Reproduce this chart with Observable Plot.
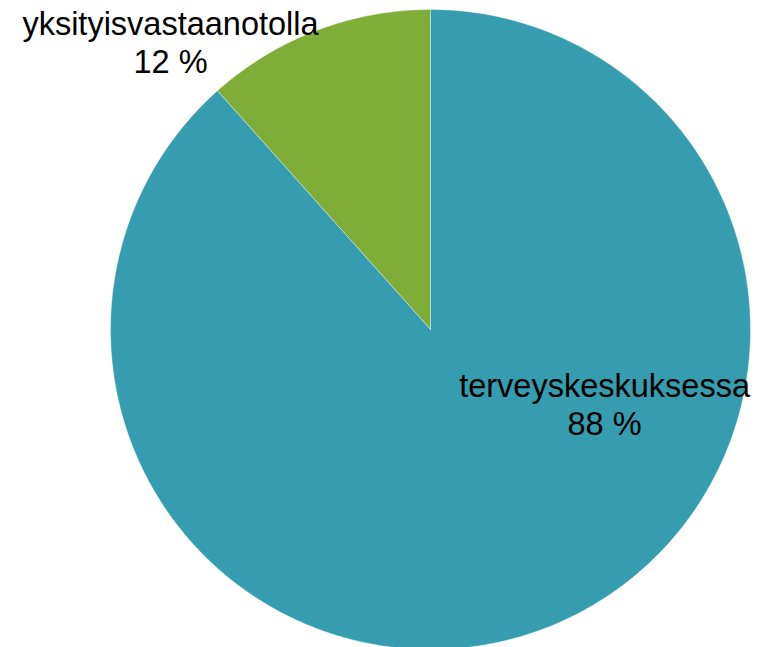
<!DOCTYPE html>
<html><head><meta charset="utf-8">
<script src="https://cdn.jsdelivr.net/npm/d3@7"></script>
<script src="https://cdn.jsdelivr.net/npm/@observablehq/plot@0.6"></script>
<style>body{margin:0;background:#fff;} #chart{position:absolute;left:0;top:0;}</style>
</head><body><div id="chart"></div>
<script>
const categories = ["yksityisvastaanotolla", "terveyskeskuksessa"];
const values = [11.6, 88.4];
const labels = ["12 %", "88 %"];
const colors = ["#80AC38", "#359DAF"];

// angles: start at 12 o'clock, first slice goes counter-clockwise
const total = d3.sum(values);
const polys = [];
let acc = 0;
categories.forEach((c, i) => {
  const a0 = -acc / total * 2 * Math.PI;
  const a1 = -(acc + values[i]) / total * 2 * Math.PI;
  acc += values[i];
  const n = Math.max(4, Math.ceil(Math.abs(a1 - a0) / 0.01));
  polys.push({cat: c, x: 0, y: 0});
  for (let k = 0; k <= n; k++) {
    const a = a0 + (a1 - a0) * k / n;
    polys.push({cat: c, x: Math.sin(a), y: Math.cos(a)});
  }
  polys.push({cat: c, x: 0, y: 0});
});

const labelPos = [
  {x: -0.8125, y: 0.9},
  {x: 0.544, y: -0.233}
];
const labelData = categories.map((c, i) => ({text: c + "\n" + labels[i], ...labelPos[i]}));

const R = 320, cx = 430, cy = 329;
const chart = Plot.plot({
  width: 764, height: 647,
  margin: 0,
  style: {fontFamily: "Liberation Sans, Arial, sans-serif", background: "white"},
  x: {domain: [-1, 1], range: [cx - R, cx + R], axis: null},
  y: {domain: [-1, 1], range: [cy + R, cy - R], axis: null},
  color: {domain: categories, range: colors},
  marks: [
    ...categories.map(c => Plot.line(polys.filter(d => d.cat === c), {x: "x", y: "y", fill: colors[categories.indexOf(c)], stroke: "white", strokeWidth: 0.4, curve: "linear"})),
    Plot.text(labelData, {x: "x", y: "y", text: "text", fontSize: 32.5, fill: "black", lineHeight: 1.17, textAnchor: "middle", lineAnchor: "middle"})
  ]
});
document.getElementById("chart").appendChild(chart);
</script></body></html>
